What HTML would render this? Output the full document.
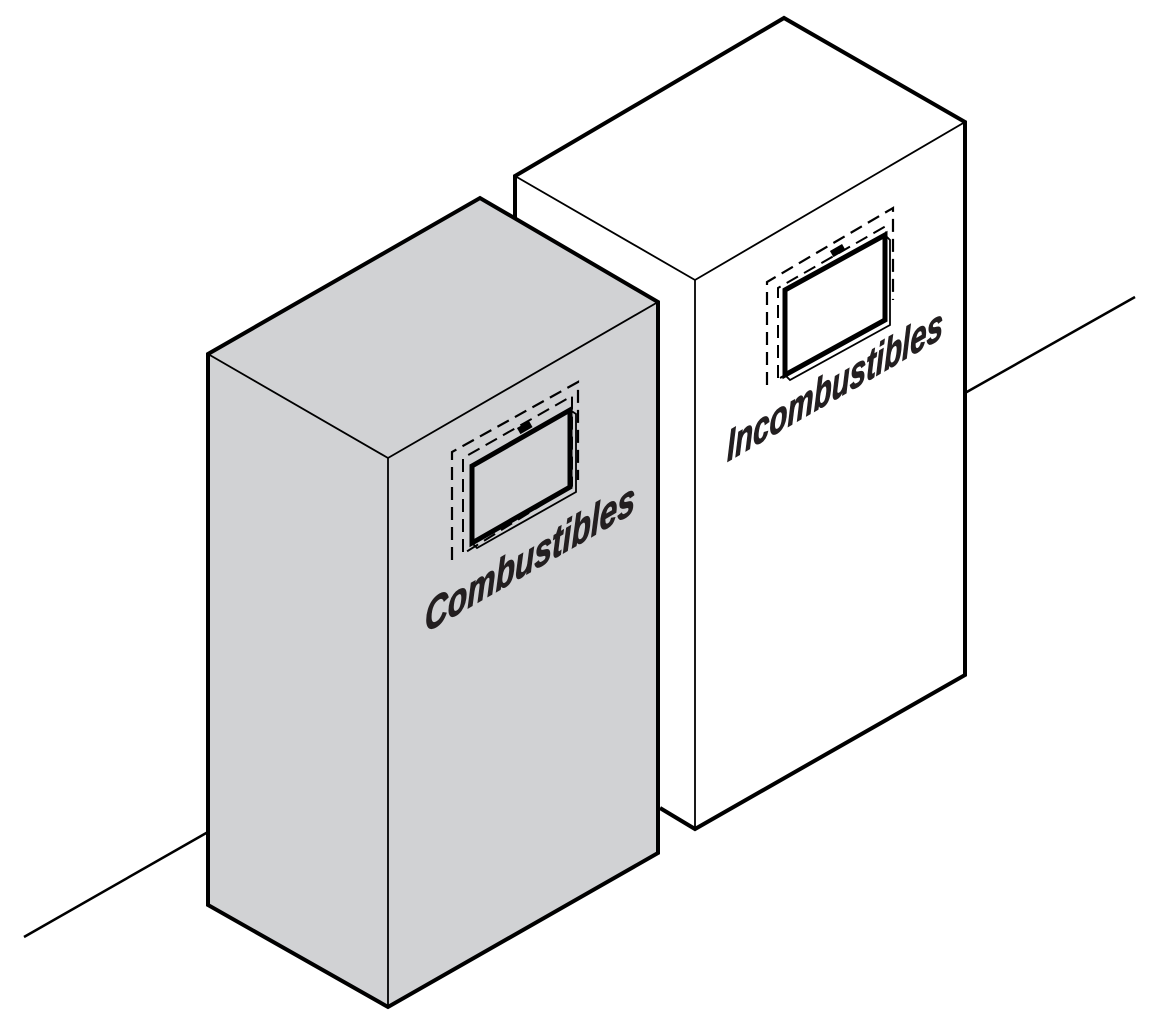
<!DOCTYPE html>
<html><head><meta charset="utf-8"><style>html,body{margin:0;padding:0;background:#fff}svg{display:block}</style></head>
<body>
<svg width="1158" height="1030" viewBox="0 0 1158 1030" xmlns="http://www.w3.org/2000/svg">
<line x1="24" y1="937" x2="208" y2="832" stroke="#000" stroke-width="2.5"/>
<line x1="965" y1="393" x2="1135" y2="297" stroke="#000" stroke-width="2.5"/>
<polygon points="515,176 784,18 965,122 965,675 695,829 660,808 660,302 515,218" fill="#fff"/>
<polyline points="515,218 515,176 784,18 965,122 965,675 695,829 660,808" fill="none" stroke="#000" stroke-width="4" stroke-linejoin="miter"/>
<polyline points="515,176 695,280 965,122" fill="none" stroke="#000" stroke-width="1.8"/>
<line x1="695" y1="280" x2="695" y2="829" stroke="#000" stroke-width="1.8"/>
<g fill="none" stroke="#000">
<polyline points="767,385 767,282 893,208 893,300" stroke-width="2.2" stroke-dasharray="13,7"/>
<polyline points="778,378 778,288 886,226 886,318 780,378" stroke-width="2" stroke-dasharray="13,7"/>
<polygon points="785,290 885,235 885,320 785,375" stroke-width="5"/>
<polyline points="785,375 790,380 890,325 890,240 885,235" stroke-width="1.8"/>
</g>
<rect x="831" y="247" width="14" height="7" fill="#000" transform="rotate(-30 838 251)"/>
<polygon points="208,354 480,198 658,302 658,853 388,1007 208,905" fill="#d1d2d4" stroke="#000" stroke-width="4" stroke-linejoin="miter"/>
<polyline points="208,354 388,458 658,302" fill="none" stroke="#000" stroke-width="1.8"/>
<line x1="388" y1="458" x2="388" y2="1007" stroke="#000" stroke-width="1.8"/>
<g fill="none" stroke="#000">
<polyline points="452,560 452,452 578,382 578,480" stroke-width="2.2" stroke-dasharray="13,7"/>
<polyline points="463,552 463,458 572,396 572,486 466,552" stroke-width="2" stroke-dasharray="13,7"/>
<polygon points="472,466 570,410 570,487 472,543" stroke-width="5"/>
<polyline points="472,543 477,548 576,492 576,414 570,410" stroke-width="1.8"/>
</g>
<rect x="518" y="424" width="14" height="7" fill="#000" transform="rotate(-30 525 428)"/>
<g transform="translate(425,633) skewY(-30)">
<text x="0" y="0" font-family="Liberation Sans, sans-serif" font-size="44" font-weight="bold" font-style="italic" fill="#231f20" stroke="#231f20" stroke-width="1" textLength="210" lengthAdjust="spacingAndGlyphs">Combustibles</text>
</g>
<g transform="translate(727,462) skewY(-30)">
<text x="0" y="0" font-family="Liberation Sans, sans-serif" font-size="44" font-weight="bold" font-style="italic" fill="#231f20" stroke="#231f20" stroke-width="1" textLength="216" lengthAdjust="spacingAndGlyphs">Incombustibles</text>
</g>
</svg>
</body></html>
